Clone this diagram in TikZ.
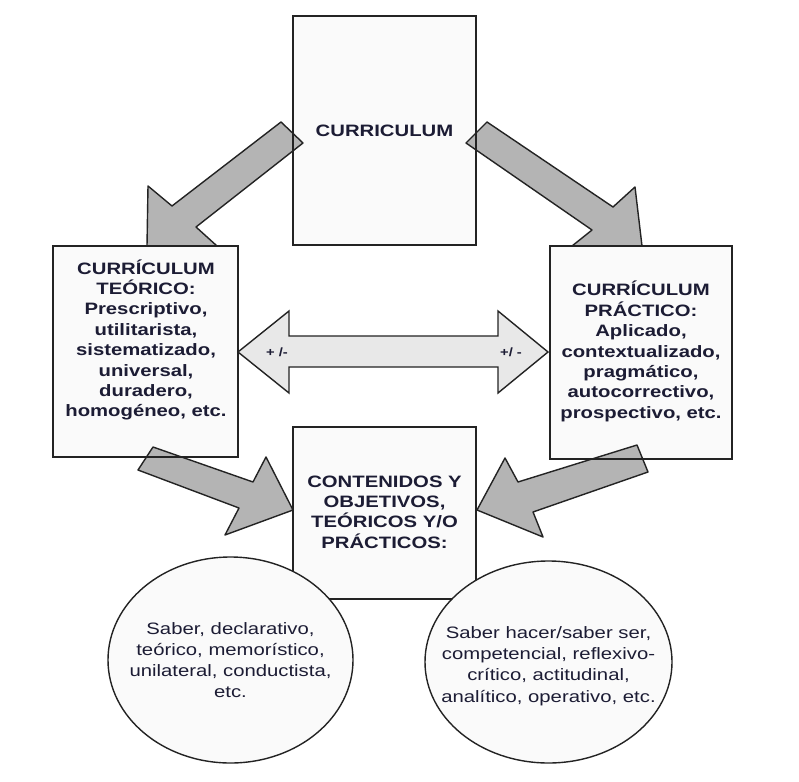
\documentclass[tikz,border=0pt]{standalone}
\usepackage{fontspec}
\setmainfont{Liberation Sans}[FakeStretch=1.23]
\usetikzlibrary{shapes.geometric}

\definecolor{ink}{RGB}{28,28,52}
\definecolor{paper}{RGB}{250,250,250}
\definecolor{edge}{RGB}{35,35,35}
\definecolor{arrowgray}{RGB}{180,180,180}
\definecolor{barfill}{RGB}{232,232,232}

\tikzset{
  panel/.style={rectangle, fill=paper, draw=none, inner sep=0pt},
  panelborder/.style={draw=edge, line width=2pt},
  oval/.style={ellipse, fill=paper, draw=edge, line width=1.4pt, inner sep=0pt},
  boxtext/.style={text=ink, align=center, inner sep=0pt,
    font=\fontsize{16.5}{20.4}\selectfont\bfseries},
  ovaltext/.style={text=ink, align=center, inner sep=0pt,
    font=\fontsize{16.5}{21.2}\selectfont},
  signtext/.style={text=ink, inner sep=0pt,
    font=\fontsize{12}{14}\selectfont\bfseries},
  blockarrow/.style={fill=arrowgray, draw=edge, line width=1.4pt, line join=round},
  twoway/.style={fill=barfill, draw=edge, line width=1.4pt, line join=miter}
}

\begin{document}
\begin{tikzpicture}[x=1pt, y=-1pt]
  \useasboundingbox[fill=white] (0,0) rectangle (799,781);

  % box backgrounds
  \node[panel, minimum width=183, minimum height=229] (top) at (384.5,130.5) {};
  \node[panel, minimum width=185, minimum height=211] (teo) at (145.5,351.5) {};
  \node[panel, minimum width=182, minimum height=213] (pra) at (641,352.5) {};
  \node[panel, minimum width=183, minimum height=172] (mid) at (384.5,513) {};

  % block arrows
  \draw[blockarrow] (281,122) -- (172,206) -- (148,186) -- (147,246)
    -- (217,246) -- (196,227) -- (303,143) -- cycle;
  \draw[blockarrow] (487,122) -- (613,207) -- (635,187) -- (642,246)
    -- (572,246) -- (592,230) -- (466,143) -- cycle;
  \draw[blockarrow] (153,447) -- (253,482) -- (266,457) -- (293,510)
    -- (225,535) -- (239,508) -- (138,470) -- cycle;
  \draw[blockarrow] (637,445) -- (518,482) -- (505,458) -- (477,510)
    -- (543,537) -- (533,512) -- (648,472) -- cycle;

  % two-way arrow between the side boxes
  \draw[twoway] (238,352) -- (289,311) -- (289,336) -- (498,336) -- (498,311)
    -- (548,352) -- (498,393) -- (498,367) -- (289,367) -- (289,393) -- cycle;
  \node[signtext] (plusL) at (277,352) {+ /-};
  \node[signtext] (plusR) at (511,352) {+/ -};

  % box borders
  \foreach \b in {top,teo,pra,mid}
    \draw[panelborder] (\b.south west) rectangle (\b.north east);

  % box texts
  \node[boxtext] (topt) at (384.5,130.5) {CURRICULUM};
  \node[boxtext] (teot) at (146,340) {CURRÍCULUM\\TEÓRICO:\\Prescriptivo,\\utilitarista,\\sistematizado,\\universal,\\duradero,\\homogéneo, etc.};
  \node[boxtext] (prat) at (641,351.5) {CURRÍCULUM\\PRÁCTICO:\\Aplicado,\\contextualizado,\\pragmático,\\autocorrectivo,\\prospectivo, etc.};
  \node[boxtext] (midt) at (384.5,512) {CONTENIDOS Y\\OBJETIVOS,\\TEÓRICOS Y/O\\PRÁCTICOS:};

  % ovals
  \node[oval, minimum width=245, minimum height=206] (ovL) at (230.5,660) {};
  \node[oval, minimum width=247, minimum height=202] (ovR) at (548.5,662) {};
  \node[ovaltext] (ovLt) at (230.5,660) {Saber, declarativo,\\teórico, memorístico,\\unilateral, conductista,\\etc.};
  \node[ovaltext] (ovRt) at (548.5,666) {Saber hacer/saber ser,\\competencial, reflexivo-\\crítico, actitudinal,\\analítico, operativo, etc.};
\end{tikzpicture}
\end{document}
